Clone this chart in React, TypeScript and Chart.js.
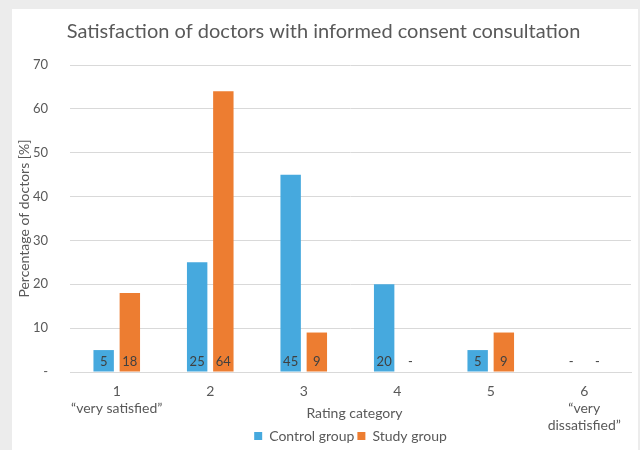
import React, { useEffect, useRef } from "react";
import { Chart, registerables } from "chart.js";

Chart.register(...registerables);

// Rating categories (1 = very satisfied ... 6 = very dissatisfied)
const categories: string[][] = [
  ["1", "\u201Cvery satisfied\u201D"],
  ["2"],
  ["3"],
  ["4"],
  ["5"],
  ["6", "\u201Cvery", "dissatisfied\u201D"],
];

// Percentage of doctors per rating
const controlGroup: number[] = [5, 25, 45, 20, 5, 0];
const studyGroup: number[] = [18, 64, 9, 0, 9, 0];

const yTicks: number[] = [0, 10, 20, 30, 40, 50, 60, 70];

const FONT = "Lato, 'Open Sans', sans-serif";
const TEXT = "#595959";

// Value labels drawn inside the foot of each bar; zero shows as a dash
const barValueLabels = {
  id: "barValueLabels",
  afterDatasetsDraw(chart: any) {
    const ctx = chart.ctx;
    ctx.save();
    ctx.font = `13px ${FONT}`;
    ctx.fillStyle = "#404040";
    ctx.textAlign = "center";
    ctx.textBaseline = "middle";
    chart.data.datasets.forEach((ds: any, di: number) => {
      const meta = chart.getDatasetMeta(di);
      meta.data.forEach((bar: any, i: number) => {
        const v = ds.data[i];
        const label = v === 0 ? "-" : String(v);
        ctx.fillText(label, bar.x, bar.base - 10);
      });
    });
    ctx.restore();
  },
};

// Axis title placed level with the second row of category labels
const xAxisTitle = {
  id: "xAxisTitle",
  afterDraw(chart: any) {
    const { ctx, chartArea } = chart;
    ctx.save();
    ctx.font = `14px ${FONT}`;
    ctx.fillStyle = TEXT;
    ctx.textAlign = "center";
    ctx.textBaseline = "middle";
    ctx.fillText("Rating category", (chartArea.left + chartArea.right) / 2 + 4, chartArea.bottom + 41);
    ctx.restore();
  },
};

// Legend sits centred under the plot area, tucked just below the labels
const legendPlacement = {
  id: "legendPlacement",
  afterLayout(chart: any) {
    const lg = chart.legend;
    if (!lg) return;
    const dx = (chart.chartArea.left + chart.chartArea.right) / 2 - (lg.left + lg.right) / 2;
    const dy = -8;
    lg.left += dx;
    lg.right += dx;
    lg.top += dy;
    lg.bottom += dy;
  },
};

export default function App() {
  const canvasRef = useRef<HTMLCanvasElement | null>(null);

  useEffect(() => {
    if (!canvasRef.current) return;
    const chart = new Chart(canvasRef.current, {
      type: "bar",
      data: {
        labels: categories,
        datasets: [
          {
            label: "Control group",
            data: controlGroup,
            backgroundColor: "#46a9de",
            categoryPercentage: 0.56,
            barPercentage: 0.78,
          },
          {
            label: "Study group",
            data: studyGroup,
            backgroundColor: "#ed7d31",
            categoryPercentage: 0.56,
            barPercentage: 0.78,
          },
        ],
      },
      options: {
        animation: false,
        responsive: false,
        maintainAspectRatio: false,
        layout: { padding: { left: 4, right: 7, top: 0, bottom: -11 } },
        plugins: {
          title: {
            display: true,
            text: "Satisfaction of doctors with informed consent consultation",
            color: TEXT,
            font: { family: FONT, size: 20, weight: "normal" },
            padding: { top: 11, bottom: 21 },
          },
          legend: {
            position: "bottom",
            labels: {
              color: TEXT,
              font: { family: FONT, size: 14 },
              boxWidth: 8,
              boxHeight: 8,
              padding: 3,
            },
          },
          tooltip: { enabled: false },
        },
        scales: {
          x: {
            grid: { display: false, drawTicks: false },
            border: { display: true, color: "#d9d9d9" },
            ticks: {
              color: TEXT,
              font: { family: FONT, size: 14, lineHeight: 1.2 },
              padding: 11,
              maxRotation: 0,
              autoSkip: false,
            },
            afterFit(scale: any) {
              scale.height = 62;
            },
          },
          y: {
            min: 0,
            max: 70,
            afterBuildTicks(scale: any) {
              scale.ticks = yTicks.map((v) => ({ value: v }));
            },
            grid: { color: "#d9d9d9", drawTicks: false },
            border: { display: false },
            ticks: {
              color: TEXT,
              font: { family: FONT, size: 13 },
              padding: 22,
              callback: (v: any) => (Number(v) === 0 ? "-" : String(v)),
            },
            title: {
              display: true,
              text: "Percentage of doctors [%]",
              color: TEXT,
              font: { family: FONT, size: 14 },
              padding: { top: 0, bottom: 2 },
            },
            afterFit(scale: any) {
              scale.width = 54;
            },
          },
        },
      },
      plugins: [barValueLabels, xAxisTitle, legendPlacement],
    });
    return () => chart.destroy();
  }, []);

  return (
    <div style={{ position: "fixed", inset: 0, background: "#ececec" }}>
      <div
        style={{
          position: "absolute",
          left: 12,
          top: 9,
          width: 626,
          height: 441,
          background: "#ffffff",
        }}
      >
        <canvas ref={canvasRef} width={626} height={441} style={{ display: "block" }} />
      </div>
    </div>
  );
}
